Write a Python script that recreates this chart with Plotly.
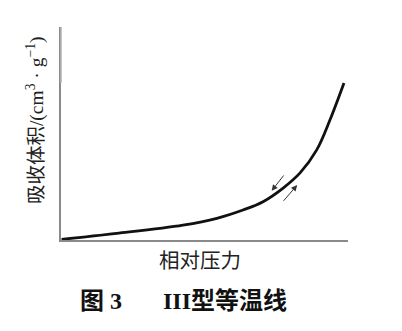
import plotly.graph_objects as go

# relative pressure (p/p0) and adsorbed volume (arbitrary units)
rel_pressure = [0.002, 0.194, 0.425, 0.543, 0.634, 0.704, 0.774, 0.833, 0.891, 0.937, 0.986]
adsorbed = [0.003, 0.031, 0.070, 0.102, 0.141, 0.180, 0.244, 0.315, 0.423, 0.563, 0.737]

# hysteresis direction arrows: (tail_x, tail_y, head_x, head_y)
desorb_arrow = (0.780, 0.310, 0.734, 0.231)
adsorb_arrow = (0.771, 0.177, 0.823, 0.258)

x_title = "相对压力"
y_title = "吸收体积/(cm<sup>3</sup> · g<sup>−1</sup>)"
caption_num = "图 3"
caption_text = "III型等温线"

SERIF = "Liberation Serif, Noto Sans CJK SC, serif"

fig = go.Figure()
fig.add_trace(go.Scatter(
    x=rel_pressure, y=adsorbed, mode="lines",
    line=dict(color="#111111", width=2.8, shape="spline", smoothing=1.0),
    hoverinfo="skip", showlegend=False,
))

for tx, ty, hx, hy in (desorb_arrow, adsorb_arrow):
    fig.add_annotation(
        x=hx, y=hy, ax=tx, ay=ty, xref="x", yref="y", axref="x", ayref="y",
        text="", showarrow=True, arrowhead=2, arrowsize=1.2, arrowwidth=1,
        arrowcolor="#333333",
    )

fig.add_annotation(
    text=y_title, textangle=-90, xref="paper", yref="paper",
    x=-0.0906, y=0.563, xanchor="center", yanchor="middle", showarrow=False,
    font=dict(family=SERIF, size=19.5, color="#222222"),
)
fig.add_annotation(
    text=x_title, xref="paper", yref="paper", x=0.484, y=-0.0986,
    xanchor="center", yanchor="middle", showarrow=False,
    font=dict(family=SERIF, size=20.5, color="#222222"),
)
fig.add_annotation(
    text="<b>" + caption_num + "</b>", xref="paper", yref="paper",
    x=(100.5 - 61) / 287, y=-0.286, xanchor="center", yanchor="middle",
    showarrow=False, font=dict(family=SERIF, size=24, color="#111111"),
)
fig.add_annotation(
    text="<b>" + caption_text + "</b>", xref="paper", yref="paper",
    x=(225 - 61) / 287, y=-0.286, xanchor="center", yanchor="middle",
    showarrow=False, font=dict(family=SERIF, size=24, color="#111111"),
)

# lighter upper part of the y axis line
fig.add_shape(type="line", xref="paper", yref="paper", x0=0, x1=0,
              y0=0.737, y1=1.0, line=dict(color="#b5b5b5", width=1.6))

fig.update_xaxes(range=[0, 1], showline=True, linecolor="#8a8a8a", linewidth=1.6,
                 showgrid=False, zeroline=False, showticklabels=False, ticks="")
fig.update_yaxes(range=[0, 1], showline=True, linecolor="#8a8a8a", linewidth=1.6,
                 showgrid=False, zeroline=False, showticklabels=False, ticks="")

fig.update_layout(
    width=402, height=331,
    margin=dict(l=61, r=54, t=27, b=91),
    paper_bgcolor="white", plot_bgcolor="white",
)
fig.write_html("out.html")
